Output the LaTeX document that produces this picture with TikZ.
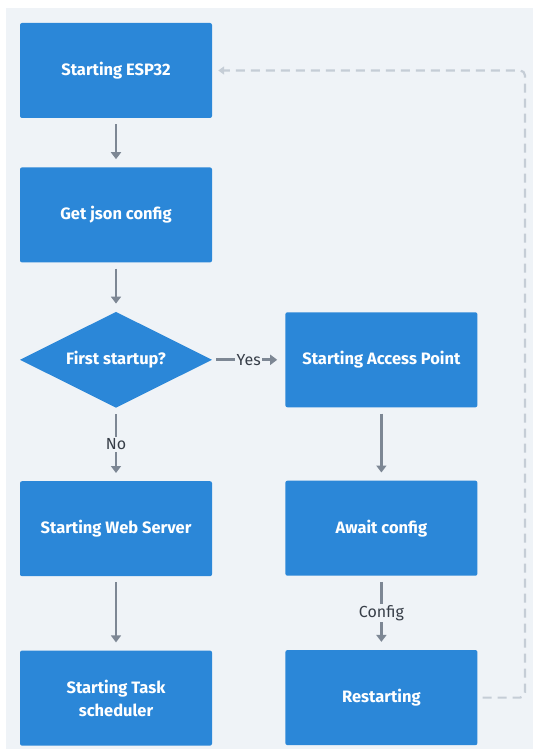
\documentclass[tikz,border=0pt]{standalone}
\usepackage{fontspec}
\setmainfont{Fira Sans}
\usepackage{tikz}
\usetikzlibrary{arrows.meta, positioning, shapes.geometric}
\definecolor{boxblue}{RGB}{43,135,216}
\definecolor{pagebg}{RGB}{239,243,247}
\definecolor{linegray}{RGB}{125,135,148}
\definecolor{loopgray}{RGB}{197,205,214}
\definecolor{labelgray}{RGB}{55,62,72}
\tikzset{
  stepbox/.style={rectangle, rounded corners=2pt, fill=boxblue, text=white, font=\fontsize{16.5}{23}\selectfont\bfseries, minimum width=192pt, minimum height=95pt, align=center},
  choice/.style={diamond, fill=boxblue, text=white, font=\fontsize{16.5}{23}\selectfont\bfseries, minimum width=192pt, minimum height=96pt, shape aspect=2, inner sep=0pt},
  flow/.style={draw=linegray, line width=2.8pt, -{Triangle[length=7pt, width=10pt]}, shorten <=6pt, shorten >=8pt},
  back/.style={draw=loopgray, line width=2.2pt, dashed, dash pattern=on 9pt off 6pt, rounded corners=5pt, -{Triangle[length=6pt, width=8pt]}, shorten <=5pt, shorten >=6pt},
  tag/.style={fill=pagebg, text=labelgray, font=\fontsize{16}{18}\selectfont, inner sep=1.5pt}
}
\begin{document}
\begin{tikzpicture}[x=1pt, y=-1pt, node distance=49pt and 73pt]
\useasboundingbox (0,0) rectangle (533,749);
\fill[pagebg] (6,8) rectangle (533,749);

% left column
\node[stepbox] (esp) at (116,70.5) {Starting ESP32};
\node[stepbox, below=of esp] (json) {Get json config};
\node[choice, below=49pt of json] (first) {First startup?};
\node[stepbox, below=73pt of first] (web) {Starting Web Server};
\node[stepbox, below=74pt of web] (task) {Starting Task\\scheduler};

% right column
\node[stepbox, right=of first] (ap) {Starting Access Point};
\node[stepbox, below=73pt of ap] (wait) {Await config};
\node[stepbox, below=74pt of wait] (restart) {Restarting};

\draw[flow] (esp) -- (json);
\draw[flow] (json) -- (first);
\draw[flow] (first) -- node[tag] {No} (web);
\draw[flow] (web) -- (task);
\draw[flow, shorten <=4pt] (first) -- node[tag] {Yes} (ap);
\draw[flow] (ap) -- (wait);
\draw[flow] (wait) -- node[tag] {Config} (restart);

% restart loop
\coordinate (turn) at (525,0);
\draw[back] (restart.east) -- (restart.east -| turn) -- (esp.east -| turn) -- (esp.east);
\end{tikzpicture}
\end{document}
